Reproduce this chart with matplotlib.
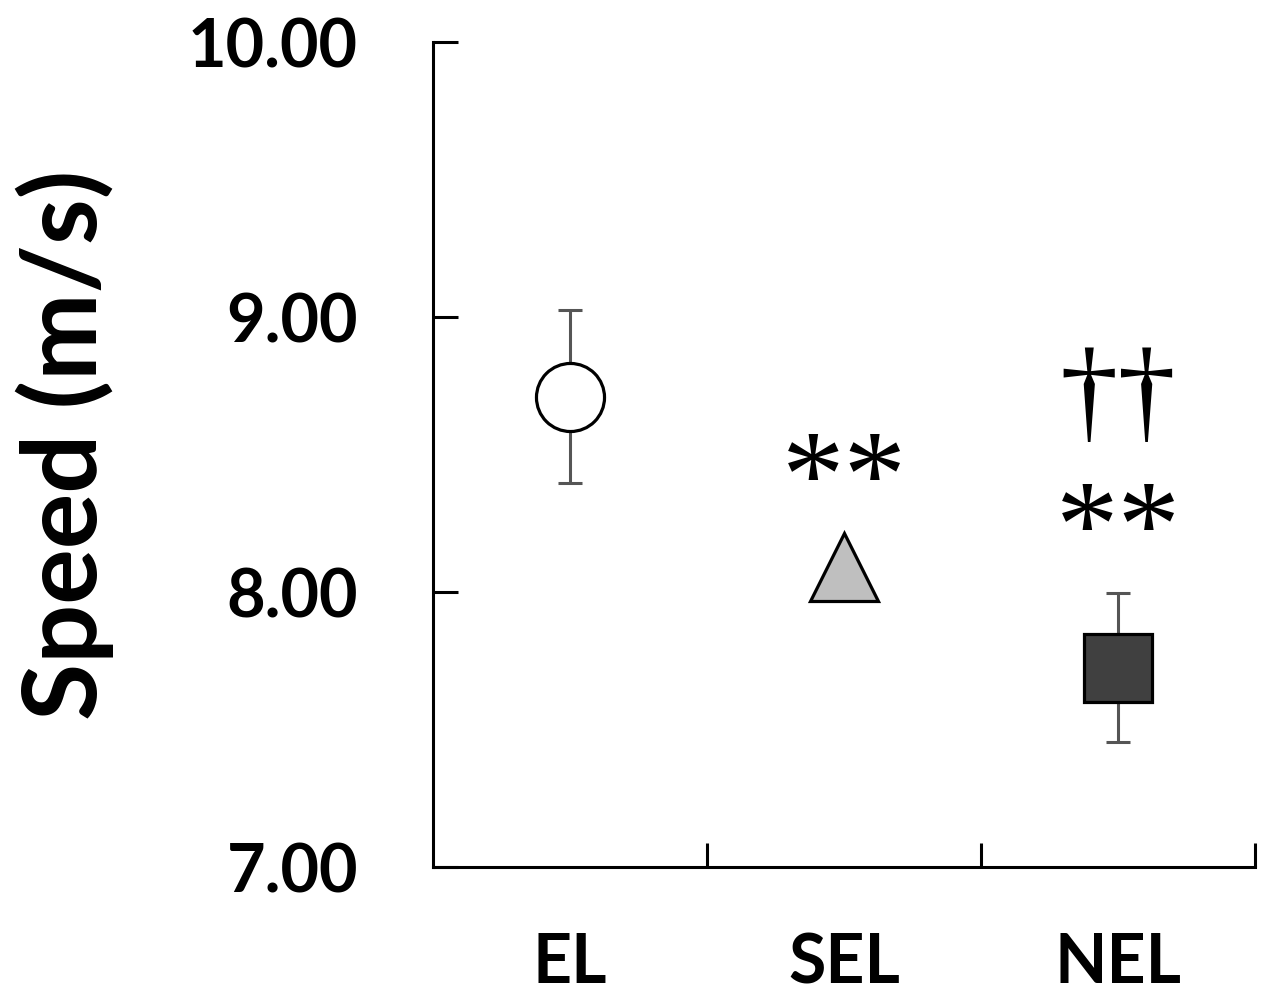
import matplotlib
matplotlib.use("Agg")
import matplotlib.pyplot as plt
import numpy as np

# data
groups = ['EL', 'SEL', 'NEL']
means = [8.71, 8.09, 7.725]
sds = [0.315, 0.04, 0.27]
markers = ['o', '^', 's']
fills = ['white', '#bfbfbf', '#404040']
# significance marks: (group index, text, y position in m/s, size)
signif = [(1, '**', 8.385, 90), (2, '††', 8.70, 84), (2, '**', 8.205, 90)]
yticks = [7.0, 8.0, 9.0, 10.0]

plt.rcParams['font.family'] = ['Lato', 'DejaVu Sans']
fig = plt.figure(figsize=(12.65, 9.96), dpi=100)
ax = fig.add_axes([0.3423, 0.1295, 0.6498, 0.8283])

xpos = np.arange(len(groups)) + 0.5
for i in range(len(groups)):
    ax.errorbar(xpos[i], means[i], yerr=sds[i], fmt='none', ecolor='#555555',
                elinewidth=2.2, capsize=8.3, capthick=2.2, zorder=2)
    ax.plot(xpos[i], means[i], marker=markers[i], markersize=49, color=fills[i],
            markeredgecolor='black', markeredgewidth=2.3, linestyle='none',
            zorder=3, clip_on=False)

for i, txt, y, size in signif:
    ax.text(xpos[i], y, txt, ha='center', va='center', fontsize=size,
            family='Liberation Serif', color='black')

ax.set_xlim(0, 3)
ax.set_ylim(7, 10)
ax.set_yticks(yticks)
ax.set_yticklabels(['%.2f' % v for v in yticks])
ax.set_xticks([1, 2, 3])
ax.set_xticklabels([])
ax.set_xticks(xpos, minor=True)
ax.set_xticklabels(groups, minor=True)

for s in ['top', 'right']:
    ax.spines[s].set_visible(False)
for s in ['left', 'bottom']:
    ax.spines[s].set_linewidth(2.2)

ax.tick_params(axis='y', direction='in', length=18, width=2.2, pad=54,
               labelsize=48)
ax.tick_params(axis='x', which='major', direction='in', length=17, width=2.2)
ax.tick_params(axis='x', which='minor', length=0, pad=47, labelsize=49)
for lab in ax.get_yticklabels() + ax.get_xticklabels(minor=True):
    lab.set_fontweight('bold')

fig.text(0.051, 1 - 445 / 996., 'Speed (m/s)', rotation=90, ha='center',
         va='center', fontsize=75, fontweight='bold')

fig.savefig('out.png', dpi=100)
